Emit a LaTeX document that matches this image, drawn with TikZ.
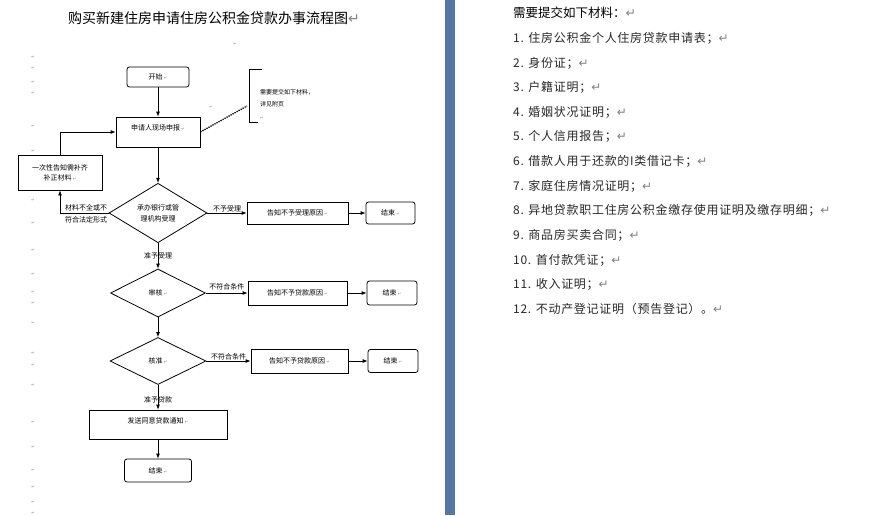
\documentclass[tikz,border=0pt]{standalone}
\usepackage{fontspec}
\setmainfont{Noto Sans CJK SC}
\newfontfamily\symfont{DejaVu Sans}
\usetikzlibrary{shapes.geometric,arrows.meta}

\definecolor{markgray}{RGB}{130,130,130}
\definecolor{splitblue}{RGB}{88,118,162}
\definecolor{listtext}{RGB}{40,40,40}

\newcommand{\retmark}{{\symfont\color{markgray}↵}}
\newcommand{\boxmark}{\,{\fontsize{4}{4}\selectfont\symfont\color{markgray}↵}}

\tikzset{
  flowbox/.style={draw, line width=0.8pt, inner sep=1pt, font=\fontsize{7}{10}\selectfont, align=center},
  endbox/.style={flowbox, rounded corners=2.5pt},
  checkbox/.style={diamond, draw, line width=0.8pt, inner sep=0pt, font=\fontsize{7}{11}\selectfont, align=center},
  flowarrow/.style={line width=0.8pt, -{Latex[length=5pt,width=4pt]}},
  flowlabel/.style={font=\fontsize{7}{12}\selectfont, inner sep=1pt},
  listitem/.style={anchor=west, inner sep=0pt, font=\fontsize{12}{12}\selectfont\addfontfeature{LetterSpace=6}, text=listtext},
}

\begin{document}
\begin{tikzpicture}[x=1pt, y=-1pt]

    \def \col {158} % x of the main column

    \useasboundingbox (0,0) rectangle (895,515);
    \fill[white] (0,0) rectangle (895,515);
    \fill[splitblue] (445,0) rectangle (455,515);

    % title
    \node[anchor=west, inner sep=0pt, font=\fontsize{14}{14}\selectfont] (title) at (68,18)
      {购买新建住房申请住房公积金贷款办事流程图\retmark};

    % paragraph marks
    \foreach \y in {57,68,82,93,126,151,200,223,250,274,292,303,323,353,365,385,422,447,470,487,502,513}
      \node[inner sep=0pt, font=\fontsize{4}{4}\selectfont\symfont, text=markgray] (pm\y) at (33,\y) {↵};
    \node[inner sep=0pt, font=\fontsize{4}{4}\selectfont\symfont, text=markgray] (pmtop) at (235,44) {↵};
    \node[inner sep=0pt, font=\fontsize{4}{4}\selectfont\symfont, text=markgray] (pmdot) at (211,107) {↵};

    % flow chart
    \node[endbox, minimum width=62pt, minimum height=20pt] (start) at (\col,77) {开始\boxmark};
    \node[flowbox, minimum width=84pt, minimum height=30pt, text depth=9pt] (apply) at (\col,132) {申请人现场申报\boxmark};
    \node[flowbox, minimum width=84pt, minimum height=35pt] (supply) at (60,172.5) {一次性告知需补齐\\补正材料\boxmark};
    \node[checkbox, minimum width=98pt, minimum height=56pt] (accept) at (\col,213) {承办银行或管\\理机构受理};
    \node[flowbox, minimum width=101pt, minimum height=22pt] (rejectA) at (297.5,213) {告知不予受理原因\boxmark};
    \node[endbox, minimum width=49pt, minimum height=22pt] (endA) at (390.5,213) {结束\boxmark};
    \node[checkbox, minimum width=95pt, minimum height=48pt] (audit) at (\col,293) {审核\boxmark};
    \node[flowbox, minimum width=99pt, minimum height=24pt] (rejectB) at (297.5,293) {告知不予贷款原因\boxmark};
    \node[endbox, minimum width=50pt, minimum height=24pt] (endB) at (392,293) {结束\boxmark};
    \node[checkbox, minimum width=96pt, minimum height=47pt] (approve) at (\col,361) {核准\boxmark};
    \node[flowbox, minimum width=97pt, minimum height=24pt] (rejectC) at (299.5,361) {告知不予贷款原因\boxmark};
    \node[endbox, minimum width=50pt, minimum height=23pt] (endC) at (393,361) {结束\boxmark};
    \node[flowbox, minimum width=138pt, minimum height=29pt, text depth=8pt] (notify) at (\col,424.5) {发送同意贷款通知\boxmark};
    \node[endbox, minimum width=67pt, minimum height=23pt] (endD) at (\col,470.5) {结束\boxmark};

    \draw[flowarrow] (start) -- (apply);
    \draw[flowarrow] (apply) -- (accept);
    \draw[flowarrow] (accept.west) -| (supply.south);
    \node[flowlabel, align=left] (lackNote) at (86,214) {材料不全或不\\符合法定形式};
    \draw[flowarrow] (supply.north) |- (apply.west);
    \draw[flowarrow] (accept.east) -- (rejectA.west) node[flowlabel, midway, above] (refuseLab) {不予受理};
    \draw[flowarrow] (rejectA) -- (endA);
    \draw[flowarrow] (accept.south) -- (audit.north) node[flowlabel, midway] (acceptLab) {准予受理};
    \draw[flowarrow] (audit.east) -- (rejectB.west) node[flowlabel, midway, above=2pt] (failLabB) {不符合条件};
    \draw[flowarrow] (rejectB) -- (endB);
    \draw[flowarrow] (audit.south) -- (approve.north);
    \draw[flowarrow] (approve.east) -- (rejectC.west) node[flowlabel, midway, above] (failLabC) {不符合条件};
    \draw[flowarrow] (rejectC) -- (endC);
    \draw[flowarrow] (approve.south) -- (notify.north) node[flowlabel, pos=0.6] (loanLab) {准予贷款};
    \draw[flowarrow] (notify) -- (endD);

    % note bracket
    \coordinate (noteTip) at (247,106);
    \draw[densely dotted, line width=1.3pt] (apply.east) -- (noteTip);
    \draw[line width=0.9pt] (262,69) -| (249,122) -- (258,122);
    \node[anchor=north west, inner sep=0pt, align=left, font=\fontsize{6}{12.5}\selectfont] (noteText) at (260,89)
      {需要提交如下材料，\\详见附页\\{\symfont\color{markgray}\fontsize{4}{4}\selectfont↵}};

    % list of materials
    \node[anchor=west, inner sep=0pt, font=\fontsize{12.5}{12.5}\selectfont] (listhead) at (513,13) {需要提交如下材料：\retmark};
    \foreach \i/\txt in {1/住房公积金个人住房贷款申请表；, 2/身份证；, 3/户籍证明；, 4/婚姻状况证明；,
        5/个人信用报告；, 6/借款人用于还款的I类借记卡；, 7/家庭住房情况证明；,
        8/异地贷款职工住房公积金缴存使用证明及缴存明细；, 9/商品房买卖合同；,
        10/首付款凭证；, 11/收入证明；, 12/不动产登记证明（预告登记）。}
      \node[listitem] (item\i) at (513,{38.5+24.6*(\i-1)}) {\i. \txt\retmark};

\end{tikzpicture}
\end{document}
